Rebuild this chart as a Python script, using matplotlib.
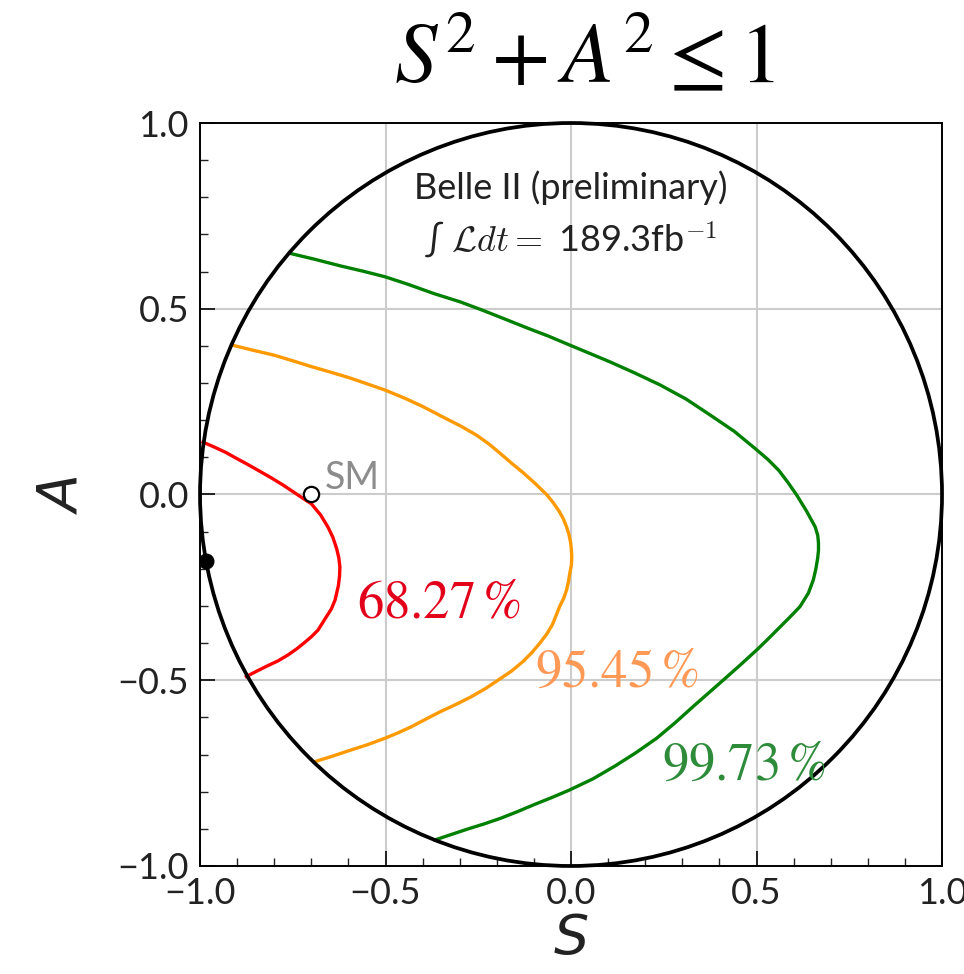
import matplotlib
matplotlib.use('Agg')
import matplotlib.pyplot as plt
from matplotlib.patches import Circle
from matplotlib.ticker import MultipleLocator, FixedLocator

plt.rcParams['font.family'] = ['Lato', 'DejaVu Sans']
plt.rcParams['axes.unicode_minus'] = True

# confidence contours in the (S, A) plane
red_S = [-0.992, -0.96, -0.93, -0.905, -0.879, -0.845, -0.81, -0.777, -0.744,
         -0.72, -0.70, -0.675, -0.655, -0.642, -0.632, -0.626, -0.623, -0.624,
         -0.627, -0.636, -0.646, -0.66, -0.682, -0.70, -0.72, -0.74, -0.763,
         -0.79, -0.82, -0.85, -0.875]
red_A = [0.141, 0.127, 0.113, 0.099, 0.085, 0.066, 0.046, 0.026, 0.004,
         -0.012, -0.025, -0.055, -0.088, -0.115, -0.145, -0.17, -0.195, -0.22,
         -0.245, -0.284, -0.308, -0.33, -0.365, -0.383, -0.40, -0.416, -0.432,
         -0.448, -0.462, -0.477, -0.49]

orange_S = [-0.913, -0.86, -0.80, -0.75, -0.699, -0.65, -0.60, -0.55, -0.501,
            -0.45, -0.40, -0.35, -0.295, -0.255, -0.22, -0.19, -0.160, -0.127,
            -0.097, -0.066, -0.048, -0.032, -0.021, -0.012, -0.005, -0.001,
            0.001, 0.002, 0.001, -0.003, -0.007, -0.012, -0.02, -0.03, -0.04,
            -0.05, -0.065, -0.084, -0.105, -0.13, -0.16, -0.197, -0.23, -0.27,
            -0.31, -0.353, -0.39, -0.43, -0.465, -0.501, -0.55, -0.60, -0.645,
            -0.69]
orange_A = [0.402, 0.389, 0.375, 0.36, 0.344, 0.33, 0.315, 0.298, 0.281,
            0.26, 0.237, 0.211, 0.183, 0.16, 0.135, 0.11, 0.084, 0.057,
            0.03, 0.0, -0.022, -0.045, -0.065, -0.087, -0.11, -0.13,
            -0.15, -0.167, -0.19, -0.21, -0.235, -0.257, -0.28, -0.30, -0.325,
            -0.35, -0.375, -0.40, -0.425, -0.45, -0.475, -0.50, -0.522, -0.545,
            -0.565, -0.585, -0.604, -0.625, -0.641, -0.656, -0.674, -0.69,
            -0.705, -0.719]

green_S = [-0.757, -0.69, -0.62, -0.56, -0.501, -0.44, -0.37, -0.30, -0.241,
           -0.18, -0.12, -0.06, -0.003, 0.05, 0.105, 0.17, 0.240, 0.31, 0.375,
           0.44, 0.496, 0.53, 0.56, 0.585, 0.608, 0.635, 0.658, 0.665, 0.667,
           0.667, 0.665, 0.66, 0.653, 0.64, 0.617, 0.59, 0.56, 0.53, 0.50,
           0.455, 0.411, 0.37, 0.33, 0.28, 0.231, 0.175, 0.12, 0.06, -0.003,
           -0.05, -0.10, -0.145, -0.191, -0.235, -0.28, -0.325, -0.367]
green_A = [0.649, 0.633, 0.615, 0.601, 0.586, 0.566, 0.541, 0.519, 0.497,
           0.473, 0.449, 0.426, 0.402, 0.38, 0.357, 0.328, 0.295, 0.257, 0.214,
           0.17, 0.124, 0.095, 0.065, 0.032, -0.001, -0.045, -0.087, -0.11,
           -0.13, -0.15, -0.17, -0.20, -0.23, -0.265, -0.302, -0.33, -0.36,
           -0.39, -0.419, -0.46, -0.499, -0.535, -0.57, -0.615, -0.656, -0.695,
           -0.73, -0.765, -0.795, -0.815, -0.835, -0.854, -0.872, -0.887,
           -0.901, -0.916, -0.93]

levels = ['68.27', '95.45', '99.73']
line_colors = ['#ff0000', '#ff9900', '#008000']
label_colors = ['#e3001b', '#ff9955', '#2e8b3a']
label_pos = [(-0.577, -0.292), (-0.097, -0.478), (0.245, -0.728)]

best_S, best_A = -0.984, -0.18
sm_S, sm_A = -0.70, 0.0

fig = plt.figure(figsize=(9.64, 9.74), dpi=100)
ax = fig.add_axes([0.2075, 0.1109, 0.7697, 0.7628])

ax.grid(True, color='#cccccc', linewidth=1.5, zorder=0)
ax.set_axisbelow(True)

ax.add_patch(Circle((0, 0), 1, fill=False, edgecolor='black', linewidth=2.7,
                    clip_on=False, zorder=3))

for S, A, c in zip([red_S, orange_S, green_S], [red_A, orange_A, green_A],
                   line_colors):
    ax.plot(S, A, color=c, linewidth=2.4, zorder=2)

for lev, (x, y), c in zip(levels, label_pos, label_colors):
    ax.text(x, y, r'$%s\,\%%$' % lev, color=c, fontsize=38,
            math_fontfamily='stix', ha='left', va='center', zorder=4)

ax.plot(best_S, best_A, 'o', color='black', markersize=10.5, zorder=5)
ax.plot(sm_S, sm_A, 'o', markerfacecolor='white', markeredgecolor='black',
        markeredgewidth=1.6, markersize=11, zorder=5)
ax.text(sm_S + 0.037, sm_A + 0.044, 'SM', color='#8c8c8c', fontsize=27,
        ha='left', va='center', zorder=4)

ax.text(0.0, 0.825, 'Belle II (preliminary)', fontsize=26, color='#222222',
        ha='center', va='center')
ax.text(0.0, 0.685, '\u222b $\\mathcal{L}dt=$ 189.3fb$^{-1}$', fontsize=26,
        color='#222222', math_fontfamily='cm', ha='center', va='center')

ax.set_xlim(-1, 1)
ax.set_ylim(-1, 1)
ax.xaxis.set_major_locator(FixedLocator([-1, -0.5, 0, 0.5, 1]))
ax.yaxis.set_major_locator(FixedLocator([-1, -0.5, 0, 0.5, 1]))
ax.xaxis.set_minor_locator(MultipleLocator(0.1))
ax.yaxis.set_minor_locator(MultipleLocator(0.1))
ax.set_xticklabels(['\u22121.0', '\u22120.5', '0.0', '0.5', '1.0'])
ax.set_yticklabels(['\u22121.0', '\u22120.5', '0.0', '0.5', '1.0'])
ax.tick_params(which='both', direction='in', top=False, right=False,
               labelsize=26, colors='#222222')
ax.tick_params(which='major', length=11, width=1.4, pad=8)
ax.tick_params(which='minor', length=6, width=1.0)
for sp in ax.spines.values():
    sp.set_linewidth(1.4)

ax.set_xlabel(r'$S$', fontsize=40, math_fontfamily='dejavusans',
              color='#222222', labelpad=2)
ax.set_ylabel(r'$A$', fontsize=40, math_fontfamily='dejavusans',
              color='#222222', labelpad=22)

fig.text(0.606, 0.943, r'$S^2 + A^2 \leq 1$', fontsize=61,
         math_fontfamily='stix', ha='center', va='center')

fig.savefig('out.png', dpi=100)
